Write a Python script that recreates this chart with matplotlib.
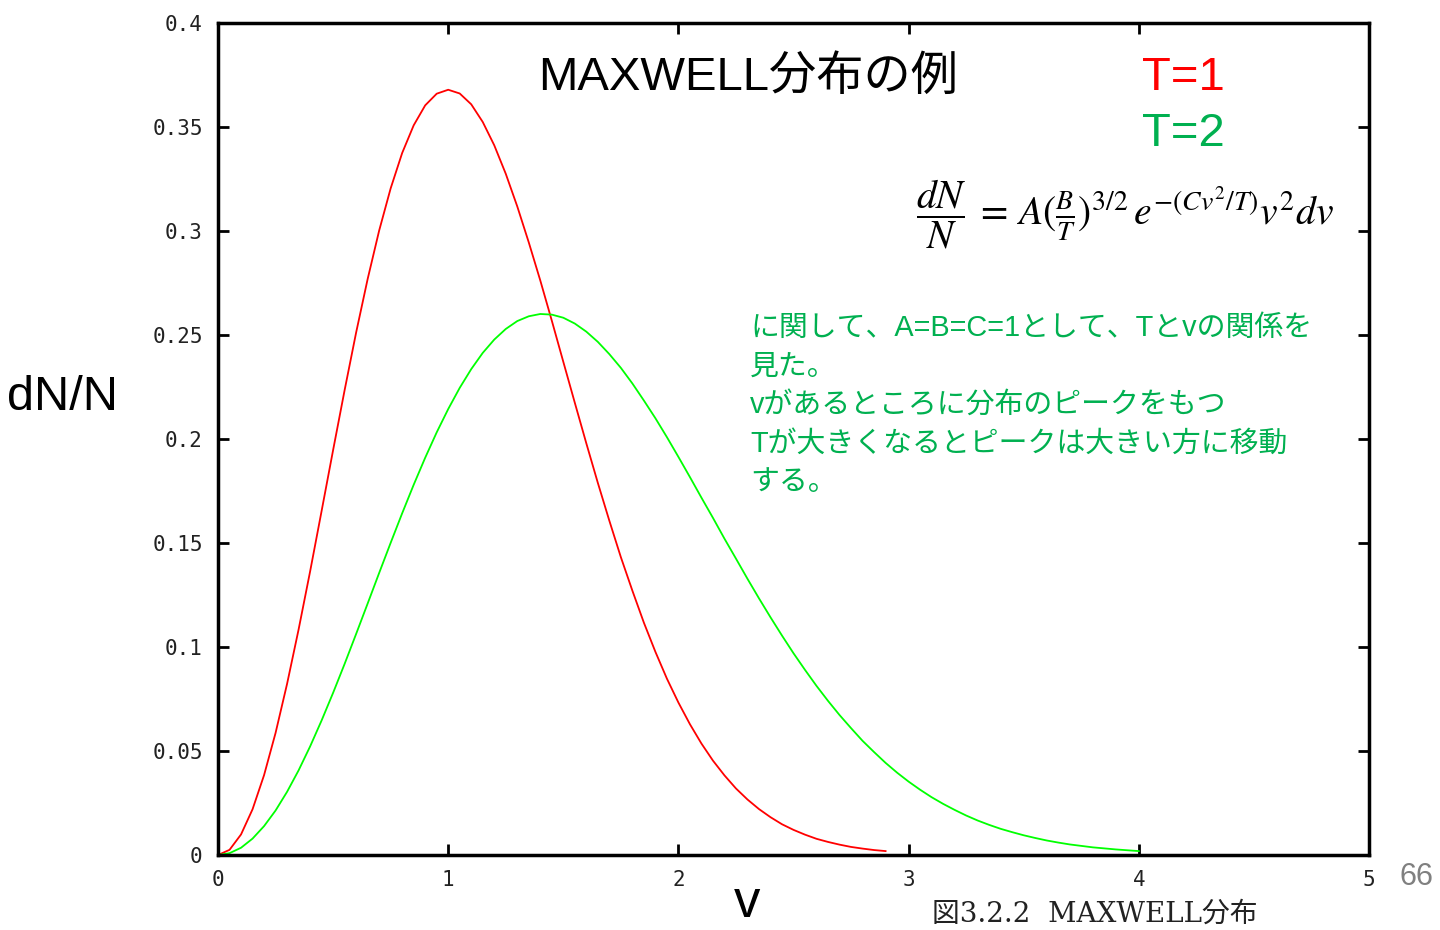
import numpy as np
import matplotlib.pyplot as plt

plt.rcParams['font.family'] = ['Liberation Sans', 'Noto Sans CJK JP', 'DejaVu Sans']
plt.rcParams['mathtext.fontset'] = 'stix'

v_t1 = np.linspace(0, 2.9, 59)
dn_t1 = [0.0, 0.0025, 0.0099, 0.0220, 0.0384, 0.0587, 0.0823, 0.1084, 0.1363, 0.1654,
         0.1947, 0.2235, 0.2512, 0.2769, 0.3002, 0.3205, 0.3375, 0.3508, 0.3604, 0.3660,
         0.3679, 0.3661, 0.3609, 0.3524, 0.3412, 0.3275, 0.3118, 0.2945, 0.2762, 0.2569,
         0.2371, 0.2174, 0.1979, 0.1789, 0.1607, 0.1432, 0.1271, 0.1117, 0.0977, 0.0848,
         0.0733, 0.0629, 0.0536, 0.0454, 0.0383, 0.0320, 0.0267, 0.0221, 0.0182, 0.0148,
         0.0121, 0.0098, 0.0078, 0.0063, 0.0050, 0.0039, 0.0031, 0.0024, 0.0019]

v_t2 = np.linspace(0, 4.0, 81)
dn_t2 = [0.0, 0.0009, 0.0035, 0.0079, 0.0139, 0.0214, 0.0304, 0.0407, 0.0522, 0.0647,
         0.0780, 0.0919, 0.1063, 0.1209, 0.1356, 0.1501, 0.1643, 0.1780, 0.1910, 0.2032,
         0.2144, 0.2246, 0.2336, 0.2414, 0.2478, 0.2529, 0.2567, 0.2590, 0.2601, 0.2598,
         0.2583, 0.2555, 0.2516, 0.2467, 0.2408, 0.2342, 0.2267, 0.2185, 0.2100, 0.2009,
         0.1914, 0.1817, 0.1718, 0.1621, 0.1521, 0.1425, 0.1328, 0.1234, 0.1143, 0.1055,
         0.0970, 0.0890, 0.0813, 0.0741, 0.0673, 0.0610, 0.0549, 0.0495, 0.0443, 0.0396,
         0.0353, 0.0314, 0.0278, 0.0246, 0.0217, 0.0190, 0.0166, 0.0145, 0.0126, 0.0110,
         0.0095, 0.0082, 0.0070, 0.0060, 0.0051, 0.0044, 0.0037, 0.0032, 0.0027, 0.0023,
         0.0019]

xticks = [0, 1, 2, 3, 4, 5]
yticks = [0, 0.05, 0.1, 0.15, 0.2, 0.25, 0.3, 0.35, 0.4]
ytick_labels = ['0', '0.05', '0.1', '0.15', '0.2', '0.25', '0.3', '0.35', '0.4']

green_txt = '#00B050'

fig = plt.figure(figsize=(14.4, 9.3), dpi=100)
ax = fig.add_axes([0.1514, 0.0806, 0.7993, 0.8947])

ax.plot(v_t1, dn_t1, color='#ff0000', lw=1.3)
ax.plot(v_t2, dn_t2, color='#00ff00', lw=1.3)

ax.set_xlim(0, 5)
ax.set_ylim(0, 0.4)
ax.set_xticks(xticks)
ax.set_xticklabels([str(t) for t in xticks])
ax.set_yticks(yticks)
ax.set_yticklabels(ytick_labels)
ax.tick_params(direction='in', length=8, width=2, top=True, right=True,
               labelsize=15, labelcolor='#222222', pad=11)
for lab in ax.get_xticklabels() + ax.get_yticklabels():
    lab.set_family('DejaVu Sans Mono')
for s in ax.spines.values():
    s.set_linewidth(2.5)

# titles and labels
fig.text(0.374, 0.9165, 'MAXWELL分布の例', fontsize=34, va='center', ha='left')
fig.text(0.793, 0.9165, 'T=1', fontsize=34, color='#ff0000', va='center')
fig.text(0.793, 0.856, 'T=2', fontsize=34, color=green_txt, va='center')
fig.text(0.636, 0.770,
         r'$\dfrac{dN}{N}\;=\,A(\frac{B}{T})^{3/2}\, e^{-(Cv^2/T)} v^2 dv$',
         fontsize=28.5, va='center', ha='left')

para = ('に関して、A=B=C=1として、Tとvの関係を\n'
        '見た。\n'
        'vがあるところに分布のピークをもつ\n'
        'Tが大きくなるとピークは大きい方に移動\n'
        'する。')
fig.text(0.521, 0.662, para, fontsize=20.8, color=green_txt, va='top', ha='left',
         linespacing=1.47)

fig.text(0.005, 0.573, 'dN/N', fontsize=35, va='center', ha='left')
fig.text(0.519, 0.002, 'v', fontsize=38, va='bottom', ha='center')
fig.text(0.972, 0.057, '66', fontsize=22, color='#808080', va='center', ha='left')
fig.text(0.647, 0.002, '図3.2.2  MAXWELL分布', fontsize=20, color='#222222',
         va='bottom', ha='left', family=['DejaVu Serif', 'Noto Sans CJK JP'])

fig.savefig('out.png', dpi=100)
